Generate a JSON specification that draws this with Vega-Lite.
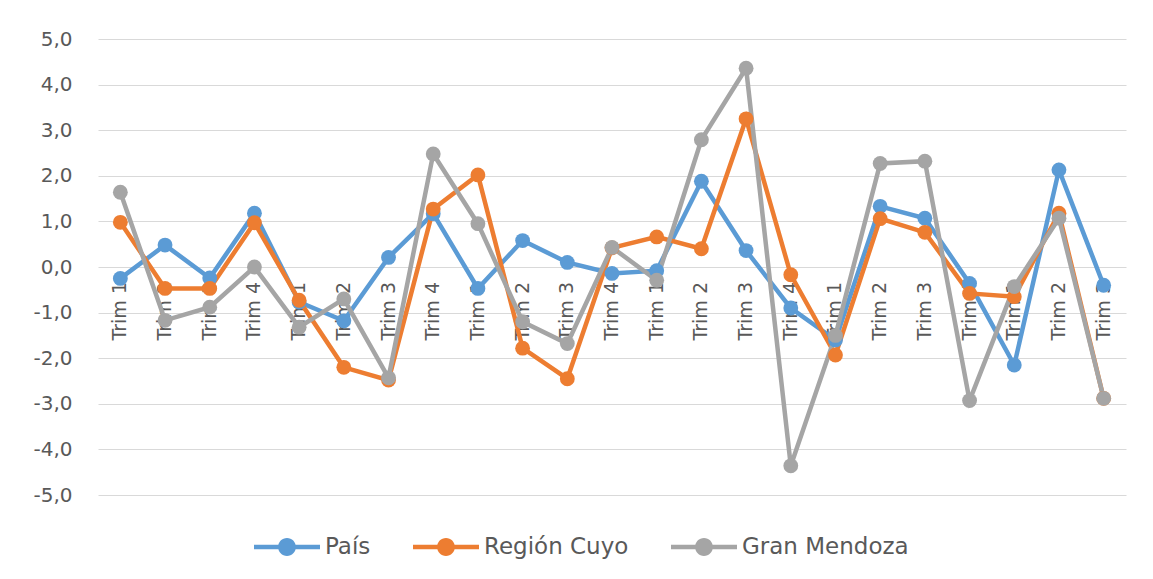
{
  "$schema": "https://vega.github.io/schema/vega-lite/v6.json",
  "autosize": "none",
  "width": 1028,
  "height": 456,
  "padding": {"left": 98, "top": 39, "right": 27, "bottom": 84},
  "background": "white",
  "config": {
    "locale": {"number": {"decimal": ",", "thousands": ".", "grouping": [3], "currency": ["$", ""], "minus": "-"}},
    "view": {"stroke": null},
    "font": "DejaVu Sans",
    "axisY": {"grid": true, "gridColor": "#d9d9d9", "gridWidth": 1}
  },
  "data": {
    "values": [
      {"i": 1, "t": "Trim 1", "País": -0.25, "Región Cuyo": 0.98, "Gran Mendoza": 1.64},
      {"i": 2, "t": "Trim 2", "País": 0.48, "Región Cuyo": -0.47, "Gran Mendoza": -1.17},
      {"i": 3, "t": "Trim 3", "País": -0.24, "Región Cuyo": -0.47, "Gran Mendoza": -0.88},
      {"i": 4, "t": "Trim 4", "País": 1.18, "Región Cuyo": 0.97, "Gran Mendoza": 0.0},
      {"i": 5, "t": "Trim 1", "País": -0.77, "Región Cuyo": -0.73, "Gran Mendoza": -1.32},
      {"i": 6, "t": "Trim 2", "País": -1.18, "Región Cuyo": -2.2, "Gran Mendoza": -0.7},
      {"i": 7, "t": "Trim 3", "País": 0.21, "Región Cuyo": -2.48, "Gran Mendoza": -2.43},
      {"i": 8, "t": "Trim 4", "País": 1.17, "Región Cuyo": 1.27, "Gran Mendoza": 2.48},
      {"i": 9, "t": "Trim 1", "País": -0.47, "Región Cuyo": 2.02, "Gran Mendoza": 0.95},
      {"i": 10, "t": "Trim 2", "País": 0.58, "Región Cuyo": -1.78, "Gran Mendoza": -1.2},
      {"i": 11, "t": "Trim 3", "País": 0.1, "Región Cuyo": -2.45, "Gran Mendoza": -1.68},
      {"i": 12, "t": "Trim 4", "País": -0.14, "Región Cuyo": 0.42, "Gran Mendoza": 0.43},
      {"i": 13, "t": "Trim 1", "País": -0.08, "Región Cuyo": 0.66, "Gran Mendoza": -0.29},
      {"i": 14, "t": "Trim 2", "País": 1.88, "Región Cuyo": 0.4, "Gran Mendoza": 2.79},
      {"i": 15, "t": "Trim 3", "País": 0.36, "Región Cuyo": 3.25, "Gran Mendoza": 4.36},
      {"i": 16, "t": "Trim 4", "País": -0.9, "Región Cuyo": -0.17, "Gran Mendoza": -4.36},
      {"i": 17, "t": "Trim 1", "País": -1.6, "Región Cuyo": -1.93, "Gran Mendoza": -1.5},
      {"i": 18, "t": "Trim 2", "País": 1.33, "Región Cuyo": 1.06, "Gran Mendoza": 2.27},
      {"i": 19, "t": "Trim 3", "País": 1.07, "Región Cuyo": 0.76, "Gran Mendoza": 2.32},
      {"i": 20, "t": "Trim 4", "País": -0.36, "Región Cuyo": -0.58, "Gran Mendoza": -2.93},
      {"i": 21, "t": "Trim 1", "País": -2.15, "Región Cuyo": -0.65, "Gran Mendoza": -0.43},
      {"i": 22, "t": "Trim 2", "País": 2.13, "Región Cuyo": 1.18, "Gran Mendoza": 1.07},
      {"i": 23, "t": "Trim 3", "País": -0.4, "Región Cuyo": -2.88, "Gran Mendoza": -2.88}
    ]
  },
  "encoding": {
    "x": {"field": "i", "type": "ordinal", "axis": null, "scale": {"padding": 0.5}}
  },
  "layer": [
    {
      "mark": {"type": "text", "angle": 270, "align": "right", "baseline": "middle", "dx": -15, "fontSize": 19, "color": "#595959", "font": "DejaVu Sans"},
      "encoding": {
        "y": {"datum": 0, "type": "quantitative", "scale": {"domain": [-5, 5], "nice": false}, "axis": {"grid": true, "title": null, "values": [-5, -4, -3, -2, -1, 0, 1, 2, 3, 4, 5], "format": ".1f", "domain": false, "ticks": false, "labelPadding": 26, "labelFontSize": 20, "labelColor": "#595959", "labelFont": "DejaVu Sans"}},
        "text": {"field": "t"}
      }
    },
    {
      "transform": [{"fold": ["País", "Región Cuyo", "Gran Mendoza"], "as": ["s", "v"]}],
      "encoding": {
        "y": {
          "field": "v", "type": "quantitative",
          "scale": {"domain": [-5, 5], "nice": false},
          "axis": {
            "grid": true, "title": null, "values": [-5, -4, -3, -2, -1, 0, 1, 2, 3, 4, 5], "format": ".1f",
            "domain": false, "ticks": false, "labelPadding": 26, "labelFontSize": 20,
            "labelColor": "#595959", "labelFont": "DejaVu Sans"
          }
        },
        "color": {
          "field": "s", "type": "nominal",
          "scale": {"domain": ["País", "Región Cuyo", "Gran Mendoza"], "range": ["#5B9BD5", "#ED7D31", "#A5A5A5"]},
          "legend": {
            "title": null, "orient": "none", "direction": "horizontal", "legendX": 156, "legendY": 475,
            "symbolType": "M-1,-0.065H1V0.065H-1Z M0.27,0A0.27,0.27 0 1 1 -0.27,0A0.27,0.27 0 1 1 0.27,0Z",
            "symbolSize": 4356, "symbolStrokeWidth": 0, "labelFontSize": 23, "labelColor": "#595959",
            "labelFont": "DejaVu Sans", "labelOffset": 5, "columnPadding": 42, "labelLimit": 400,
            "encode": {"symbols": {"update": {"fill": {"scale": "color", "field": "value"}, "fillOpacity": {"value": 1}, "strokeWidth": {"value": 0}}}}
          }
        }
      },
      "layer": [
        {"mark": {"type": "line", "strokeWidth": 4.5}},
        {"mark": {"type": "point", "filled": true, "size": 220, "opacity": 1}}
      ]
    }
  ]
}
